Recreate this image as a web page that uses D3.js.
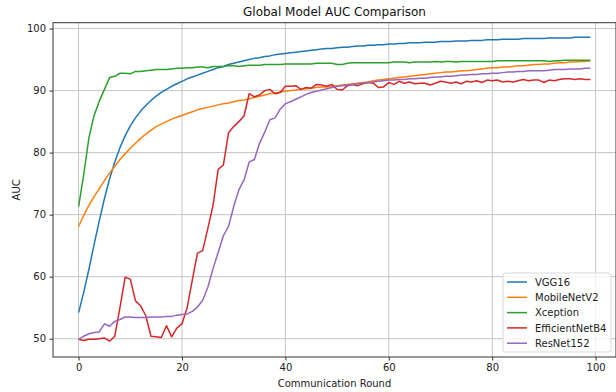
<!DOCTYPE html>
<html>
<head>
<meta charset="utf-8">
<script src="https://cdn.jsdelivr.net/npm/d3@7"></script>
<style>
  body { margin: 0; background: #fff; }
  svg { display: block; font-family: "DejaVu Sans", sans-serif; }
</style>
</head>
<body>
<div id="chart"></div>
<script>
// rounds 0..99
const rounds = d3.range(0, 100);

const vgg16 = [
  54.2, 57.5, 61.2, 65.2, 69.0, 72.6, 75.8, 78.5, 80.8, 82.7,
  84.3, 85.6, 86.7, 87.6, 88.4, 89.1, 89.7, 90.2, 90.7, 91.1,
  91.5, 91.9, 92.2, 92.5, 92.8, 93.1, 93.4, 93.7, 93.9, 94.2,
  94.4, 94.6, 94.8, 95.0, 95.2, 95.3, 95.5, 95.6, 95.8, 95.9,
  96.0, 96.1, 96.2, 96.3, 96.4, 96.5, 96.6, 96.7, 96.8, 96.8,
  96.9, 97.0, 97.0, 97.1, 97.2, 97.2, 97.3, 97.3, 97.4, 97.4,
  97.5, 97.5, 97.6, 97.6, 97.7, 97.7, 97.7, 97.8, 97.8, 97.8,
  97.9, 97.9, 97.9, 98.0, 98.0, 98.0, 98.1, 98.1, 98.1, 98.2,
  98.2, 98.2, 98.3, 98.3, 98.3, 98.3, 98.4, 98.4, 98.4, 98.4,
  98.4, 98.5, 98.5, 98.5, 98.5, 98.5, 98.6, 98.6, 98.6, 98.6
];

const mobileNetV2 = [
  68.1, 69.9, 71.5, 72.9, 74.2, 75.5, 76.7, 77.8, 78.9, 79.8,
  80.7, 81.5, 82.3, 83.0, 83.6, 84.2, 84.6, 85.0, 85.4, 85.7,
  86.0, 86.3, 86.6, 86.9, 87.1, 87.3, 87.5, 87.7, 87.9, 88.0,
  88.2, 88.4, 88.5, 88.7, 88.9, 89.1, 89.3, 89.5, 89.6, 89.8,
  89.9, 90.0, 90.1, 90.2, 90.3, 90.4, 90.5, 90.6, 90.6, 90.7,
  90.8, 90.9, 91.0, 91.1, 91.2, 91.3, 91.4, 91.6, 91.7, 91.8,
  91.9, 92.0, 92.1, 92.2, 92.3, 92.4, 92.5, 92.6, 92.7, 92.8,
  92.9, 93.0, 93.0, 93.1, 93.2, 93.2, 93.3, 93.4, 93.5, 93.6,
  93.7, 93.7, 93.8, 93.8, 93.9, 94.0, 94.0, 94.1, 94.2, 94.2,
  94.3, 94.3, 94.4, 94.5, 94.5, 94.6, 94.6, 94.7, 94.7, 94.8
];

const xception = [
  71.3, 76.5, 82.4, 86.0, 88.3, 90.2, 92.1, 92.3, 92.8, 92.8,
  92.7, 93.1, 93.1, 93.2, 93.3, 93.4, 93.4, 93.4, 93.5, 93.6,
  93.6, 93.7, 93.7, 93.8, 93.8, 93.7, 93.9, 93.9, 93.9, 94.0,
  94.0, 93.9, 94.0, 94.1, 94.1, 94.1, 94.2, 94.2, 94.2, 94.2,
  94.3, 94.3, 94.3, 94.3, 94.3, 94.3, 94.4, 94.4, 94.4, 94.4,
  94.2, 94.2, 94.4, 94.5, 94.5, 94.5, 94.5, 94.5, 94.5, 94.5,
  94.5, 94.6, 94.6, 94.6, 94.5, 94.6, 94.6, 94.6, 94.6, 94.7,
  94.6, 94.7, 94.7, 94.6, 94.7, 94.7, 94.7, 94.7, 94.7, 94.7,
  94.7, 94.8, 94.8, 94.8, 94.8, 94.8, 94.8, 94.8, 94.8, 94.8,
  94.8, 94.7, 94.8, 94.8, 94.9, 94.9, 94.9, 94.9, 94.9, 94.9
];

const efficientNetB4 = [
  49.9, 49.7, 49.9, 49.9, 50.0, 50.1, 49.6, 50.4, 55.0, 59.9,
  59.6, 56.1, 55.3, 53.7, 50.4, 50.3, 50.2, 52.1, 50.3, 51.7,
  52.4, 55.0, 59.5, 63.8, 64.2, 67.8, 71.5, 77.3, 78.0, 83.2,
  84.2, 85.0, 85.9, 89.5, 89.0, 89.3, 90.0, 90.2, 89.5, 89.7,
  90.7, 90.7, 90.8, 90.2, 90.5, 90.4, 91.0, 90.9, 90.7, 91.0,
  90.2, 90.1, 90.8, 91.0, 90.8, 91.1, 91.3, 91.2, 90.5, 90.6,
  91.3, 91.0, 91.5, 91.2, 91.4, 91.1, 91.2, 91.2, 90.9, 91.2,
  91.5, 91.4, 91.2, 91.4, 91.1, 91.5, 91.4, 91.6, 91.3, 91.7,
  91.6, 91.7, 91.4, 91.5, 91.4, 91.6, 91.8, 91.6, 91.7, 91.7,
  91.3, 91.7, 91.6, 91.8, 91.9, 91.9, 91.8, 91.9, 91.8, 91.8
];

const resNet152 = [
  49.9, 50.4, 50.8, 51.0, 51.1, 52.4, 52.0, 52.8, 53.1, 53.5,
  53.5, 53.4, 53.4, 53.4, 53.5, 53.5, 53.5, 53.6, 53.6, 53.8,
  53.9, 54.0, 54.4, 55.1, 56.2, 58.3, 61.3, 63.9, 66.6, 68.1,
  71.3, 74.0, 75.6, 78.5, 78.9, 81.5, 83.3, 85.3, 85.6, 87.0,
  87.9, 88.2, 88.6, 89.0, 89.4, 89.7, 89.9, 90.1, 90.3, 90.5,
  90.7, 90.8, 90.9, 91.0, 91.1, 91.2, 91.3, 91.4, 91.5, 91.6,
  91.7, 91.7, 91.8, 91.8, 91.9, 91.9, 92.0, 92.0, 92.1, 92.2,
  92.2, 92.3, 92.3, 92.4, 92.5, 92.5, 92.6, 92.6, 92.7, 92.7,
  92.8, 92.8, 92.9, 93.0, 93.0, 93.1, 93.1, 93.2, 93.2, 93.2,
  93.2, 93.3, 93.4, 93.4, 93.4, 93.5, 93.5, 93.5, 93.6, 93.6
];

const seriesNames = ["VGG16", "MobileNetV2", "Xception", "EfficientNetB4", "ResNet152"];
const seriesValues = [vgg16, mobileNetV2, xception, efficientNetB4, resNet152];
const seriesColors = ["#1f77b4", "#ff7f0e", "#2ca02c", "#d62728", "#9467bd"];

const xTicks = [0, 20, 40, 60, 80, 100];
const yTicks = [50, 60, 70, 80, 90, 100];

const width = 616, height = 392;
const margin = { left: 53, right: 0, top: 22.7, bottom: 35 };

const svg = d3.select("#chart").append("svg")
  .attr("width", width)
  .attr("height", height);

// matplotlib style 5% margins
const xs = d3.scaleLinear().domain([-4.95, 103.95]).range([margin.left, width - margin.right]);
const ys = d3.scaleLinear().domain([47.05, 100.95]).range([height - margin.bottom, margin.top]);

const plotL = margin.left, plotR = width - margin.right;
const plotT = margin.top, plotB = height - margin.bottom;

// grid
svg.append("g")
  .selectAll("line.vx")
  .data(xTicks)
  .join("line")
  .attr("x1", d => xs(d)).attr("x2", d => xs(d))
  .attr("y1", plotT).attr("y2", plotB)
  .attr("stroke", "#c4c4c4").attr("stroke-width", 1);

svg.append("g")
  .selectAll("line.hy")
  .data(yTicks)
  .join("line")
  .attr("x1", plotL).attr("x2", plotR)
  .attr("y1", d => ys(d)).attr("y2", d => ys(d))
  .attr("stroke", "#c4c4c4").attr("stroke-width", 1);

// lines
const line = d3.line()
  .x((d, i) => xs(rounds[i]))
  .y(d => ys(d));

svg.append("g")
  .selectAll("path")
  .data(seriesValues)
  .join("path")
  .attr("d", d => line(d))
  .attr("fill", "none")
  .attr("stroke", (d, i) => seriesColors[i])
  .attr("stroke-width", 1.5)
  .attr("stroke-linejoin", "round");

// axes
const xAxis = svg.append("g")
  .attr("transform", `translate(0,${plotB})`)
  .call(d3.axisBottom(xs).tickValues(xTicks).tickSize(3.5).tickPadding(3.5).tickSizeOuter(0));
const yAxis = svg.append("g")
  .attr("transform", `translate(${plotL},0)`)
  .call(d3.axisLeft(ys).tickValues(yTicks).tickSize(3.5).tickPadding(3.5).tickSizeOuter(0));

[xAxis, yAxis].forEach(g => {
  g.select(".domain").remove();
  g.selectAll("line").attr("stroke", "#333");
  g.selectAll("text").attr("fill", "#222").style("font-size", "10px")
    .style("font-family", "'DejaVu Sans', sans-serif");
});

// frame
svg.append("rect")
  .attr("x", plotL).attr("y", plotT)
  .attr("width", plotR - plotL).attr("height", plotB - plotT)
  .attr("fill", "none").attr("stroke", "#333").attr("stroke-width", 1);

// title and labels
svg.append("text")
  .attr("x", (plotL + plotR) / 2).attr("y", 16)
  .attr("text-anchor", "middle")
  .style("font-size", "12px").attr("fill", "#111")
  .text("Global Model AUC Comparison");

svg.append("text")
  .attr("x", (plotL + plotR) / 2).attr("y", 387)
  .attr("text-anchor", "middle")
  .style("font-size", "10px").attr("fill", "#222")
  .text("Communication Round");

svg.append("text")
  .attr("transform", `translate(20,${(plotT + plotB) / 2}) rotate(-90)`)
  .attr("text-anchor", "middle")
  .style("font-size", "10px").attr("fill", "#222")
  .text("AUC");

// legend
const legend = svg.append("g").attr("transform", "translate(503,273)");
legend.append("rect")
  .attr("width", 108).attr("height", 79)
  .attr("rx", 2.5)
  .attr("fill", "#fff").attr("fill-opacity", 0.8)
  .attr("stroke", "#d8d8d8").attr("stroke-width", 1);

const items = legend.selectAll("g.item")
  .data(seriesNames)
  .join("g")
  .attr("transform", (d, i) => `translate(0,${9 + i * 15.3})`);
items.append("line")
  .attr("x1", 4).attr("x2", 24)
  .attr("stroke", (d, i) => seriesColors[i])
  .attr("stroke-width", 1.5);
items.append("text")
  .attr("x", 32).attr("y", 3.6)
  .style("font-size", "10px").attr("fill", "#222")
  .text(d => d);
</script>
</body>
</html>
